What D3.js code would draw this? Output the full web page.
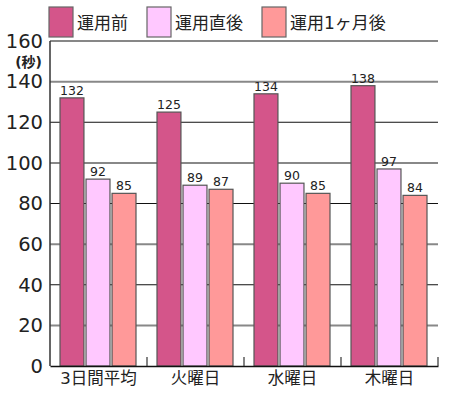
<!DOCTYPE html>
<html><head><meta charset="utf-8">
<script src="https://cdn.jsdelivr.net/npm/d3@7"></script>
<style>body{margin:0;background:#fff}svg{display:block}text{font-family:"DejaVu Sans","Noto Sans CJK JP",sans-serif;fill:#222}</style>
</head><body><svg id="c" width="455" height="393"></svg>
<script>
const categories = ["3日間平均","火曜日","水曜日","木曜日"];
const seriesNames = ["運用前","運用直後","運用1ヶ月後"];
const before = [132,125,134,138];
const justAfter = [92,89,90,97];
const oneMonth = [85,87,85,84];
const yTicks = [0,20,40,60,80,100,120,140,160];
const colors = ["#d4558a","#ffc8ff","#ff9999"];
const series = [before, justAfter, oneMonth];

const svg = d3.select("#c");
const L = 50, R = 438, T = 41, B = 366;
const x = d3.scaleBand().domain(categories).range([L, R]).paddingInner(0).paddingOuter(0);
const x1 = d3.scaleBand().domain(seriesNames).range([10, x.bandwidth() - 11]).paddingInner(0.08);
const y = d3.scaleLinear().domain([0,160]).range([B, T]);

// gridlines
svg.append("g").selectAll("line").data(yTicks.filter(d=>d>0)).join("line")
  .attr("x1", L).attr("x2", R).attr("y1", d=>y(d)).attr("y2", d=>y(d))
  .attr("stroke", d=> (d/20)%2===0 ? "#111" : "#888")
  .attr("stroke-width", d=> (d/20)%2===0 ? 1.2 : 2);

// y axis labels
const ya = svg.append("g").attr("transform", `translate(${L},0)`)
  .call(d3.axisLeft(y).tickValues(yTicks).tickSize(0).tickPadding(7));
ya.select(".domain").remove();
ya.selectAll("text").style("font-size","19.5px").attr("fill","#222")
  .style("font-family","'DejaVu Sans',sans-serif");
svg.append("text").attr("x", 42).attr("y", 66.5).attr("text-anchor","end")
  .style("font-size","14px").style("font-weight","bold")
  .style("font-family","'DejaVu Sans','Noto Sans CJK JP',sans-serif").text("(秒)");

// bars
const g = svg.append("g").selectAll("g").data(categories).join("g")
  .attr("transform", d=>`translate(${x(d)},0)`);
g.selectAll("rect").data((d,i)=>series.map((s,k)=>({k, v:s[i]}))).join("rect")
  .attr("x", d=>x1(seriesNames[d.k])).attr("width", x1.bandwidth())
  .attr("y", d=>y(d.v)).attr("height", d=>B - y(d.v))
  .attr("fill", d=>colors[d.k]).attr("stroke","#555").attr("stroke-width",1.2);
g.selectAll("text.v").data((d,i)=>series.map((s,k)=>({k, v:s[i]}))).join("text")
  .attr("class","v")
  .attr("x", d=>x1(seriesNames[d.k]) + x1.bandwidth()/2)
  .attr("y", d=>y(d.v) - 3).attr("text-anchor","middle")
  .style("font-size","12.5px").text(d=>d.v);

// axes lines
svg.append("line").attr("x1",L).attr("x2",L).attr("y1",T).attr("y2",B).attr("stroke","#333").attr("stroke-width",1.5);
const xa = svg.append("g").attr("transform", `translate(0,${B})`)
  .call(d3.axisBottom(x).tickSize(0).tickPadding(6));
xa.select(".domain").attr("stroke","#111").attr("stroke-width",1.5);
xa.selectAll("text").style("font-size","16.5px").attr("fill","#222")
  .style("font-family","'DejaVu Sans','Noto Sans CJK JP',sans-serif");
svg.append("g").selectAll("line").data(categories).join("line")
  .attr("x1", d=>x(d)+x.bandwidth()).attr("x2", d=>x(d)+x.bandwidth())
  .attr("y1", B).attr("y2", B-9).attr("stroke","#333").attr("stroke-width",1.2);

// legend
const legX = [49,147,262];
const lg = svg.append("g").selectAll("g").data(seriesNames).join("g")
  .attr("transform",(d,i)=>`translate(${legX[i]},7)`);
lg.append("rect").attr("width",24).attr("height",30)
  .attr("fill",(d,i)=>colors[i]).attr("stroke","#666").attr("stroke-width",1.2);
lg.append("text").attr("x",28).attr("y",22).style("font-size","17px").text(d=>d);
</script></body></html>
